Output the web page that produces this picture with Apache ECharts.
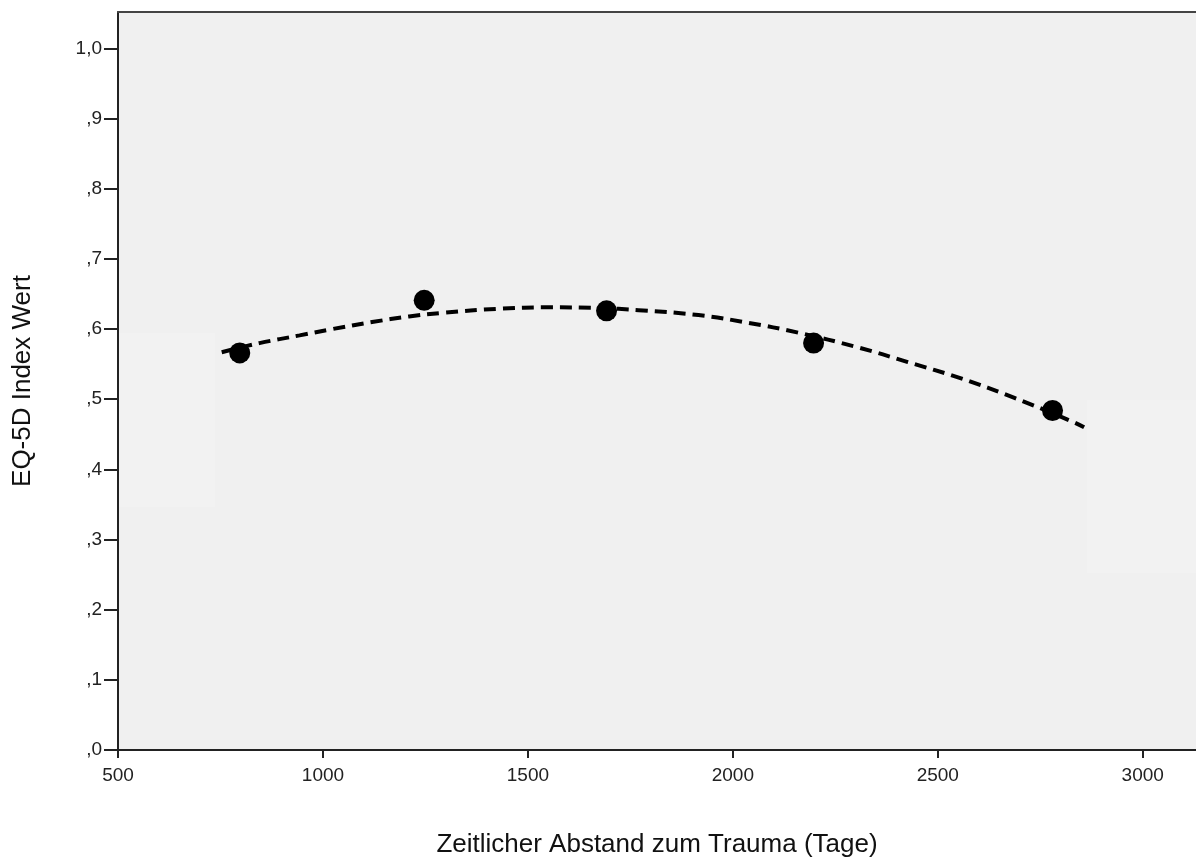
<!DOCTYPE html>
<html>
<head>
<meta charset="utf-8">
<script src="https://cdn.jsdelivr.net/npm/echarts@6/dist/echarts.min.js"></script>
<style>
  html, body { margin: 0; padding: 0; background: #fff; }
  #main { width: 1196px; height: 862px; }
</style>
</head>
<body>
<div id="main"></div>
<script>
// Messpunkte (Tage, EQ-5D Index)
var pointDays = [797, 1247, 1692, 2197, 2780];
var pointValues = [0.566, 0.641, 0.626, 0.580, 0.484];

// quadratische Anpassung
var fitDays = [753, 845, 943, 1023, 1120, 1210, 1291, 1429, 1551, 1672, 1770, 1916, 2037, 2159, 2305, 2427, 2555, 2687, 2833, 2857];
var fitValues = [0.567, 0.580, 0.591, 0.600, 0.610, 0.618, 0.623, 0.629, 0.631, 0.630, 0.627, 0.620, 0.609, 0.595, 0.574, 0.553, 0.530, 0.502, 0.467, 0.460];

var xTicks = [500, 1000, 1500, 2000, 2500, 3000];
var yTicks = [0, 0.1, 0.2, 0.3, 0.4, 0.5, 0.6, 0.7, 0.8, 0.9, 1.0];

var font = 'Liberation Sans, Arial, sans-serif';

var chart = echarts.init(document.getElementById('main'));

var option = {
  animation: false,
  grid: {
    left: 118, right: 0, top: 12, bottom: 112,
    outerBoundsMode: 'none',
    show: true, backgroundColor: '#f0f0f0', borderWidth: 0
  },
  graphic: [
    // hellere Flächen im Hintergrund
    { type: 'rect', left: 119, top: 333, shape: { width: 96, height: 174 }, style: { fill: '#f2f2f2' }, z: 1 },
    { type: 'rect', left: 1087, top: 400, shape: { width: 109, height: 173 }, style: { fill: '#f2f2f2' }, z: 1 }
  ],
  xAxis: [{
    type: 'value',
    min: 500, max: 3130,
    splitLine: { show: false },
    axisLine: { lineStyle: { color: '#222', width: 2 } },
    axisTick: { length: 8, lineStyle: { color: '#222', width: 2 }, customValues: xTicks },
    axisLabel: {
      customValues: xTicks, color: '#222', fontSize: 19, fontFamily: font, margin: 16,
      formatter: function (v) { return String(v); }
    },
    name: 'Zeitlicher Abstand zum Trauma (Tage)',
    nameLocation: 'middle', nameGap: 82,
    nameTextStyle: { color: '#111', fontSize: 26, fontFamily: font }
  }, {
    type: 'value', position: 'top',
    min: 500, max: 3130,
    splitLine: { show: false },
    axisLine: { show: true, lineStyle: { color: '#444', width: 2 } },
    axisTick: { show: false },
    axisLabel: { show: false }
  }],
  yAxis: {
    type: 'value',
    min: 0, max: 1.052,
    splitLine: { show: false },
    axisLine: { show: true, lineStyle: { color: '#222', width: 2 } },
    axisTick: { show: true, length: 14, lineStyle: { color: '#222', width: 2 }, customValues: yTicks },
    axisLabel: {
      customValues: yTicks, color: '#222', fontSize: 19, fontFamily: font, margin: 16,
      formatter: function (v) {
        if (v >= 0.999) return '1,0';
        return ',' + Math.round(v * 10);
      }
    },
    name: 'EQ-5D Index Wert',
    nameLocation: 'middle', nameGap: 82,
    nameTextStyle: { color: '#111', fontSize: 26, fontFamily: font }
  },
  series: [{
    type: 'line',
    data: fitDays.map(function (d, i) { return [d, fitValues[i]]; }),
    smooth: 0.4,
    showSymbol: false,
    lineStyle: { color: '#000', width: 4, type: [12, 7] },
    z: 3
  }, {
    type: 'scatter',
    data: pointDays.map(function (d, i) { return [d, pointValues[i]]; }),
    symbol: 'circle',
    symbolSize: 21,
    itemStyle: { color: '#000', opacity: 1 },
    z: 4
  }]
};

chart.setOption(option);
</script>
</body>
</html>
